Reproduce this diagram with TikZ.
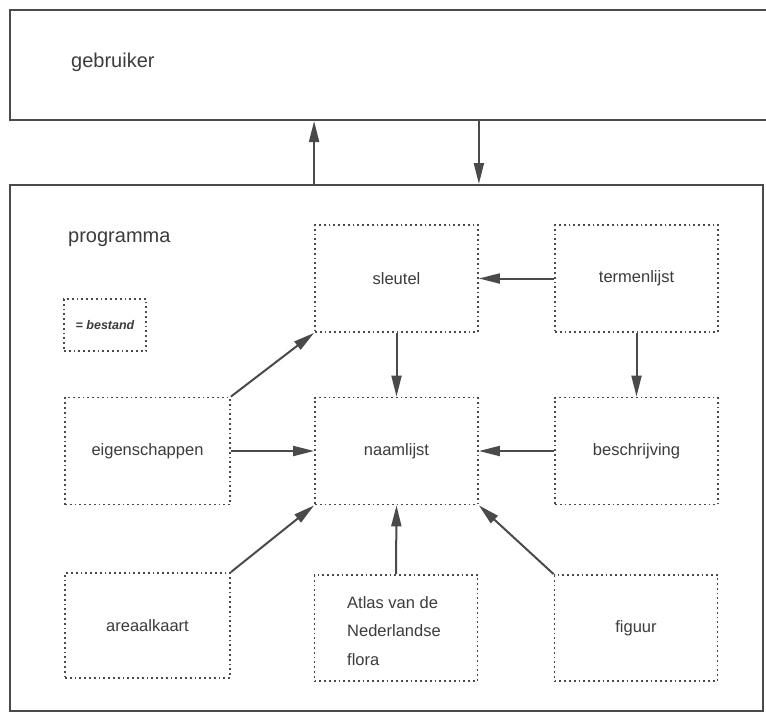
\documentclass[tikz,border=0pt]{standalone}
\usepackage{fontspec}
\setmainfont{Liberation Sans}
\usetikzlibrary{arrows.meta}
\definecolor{ink}{HTML}{4A4A4A}
\definecolor{txt}{HTML}{3C3C3C}
\begin{document}
\begin{tikzpicture}[x=1pt,y=-1pt,
  outer/.style={draw=ink,line width=2pt,rectangle,inner sep=0pt},
  filebox/.style={draw=ink,line width=1.8pt,dash pattern=on 1.8pt off 3pt,rectangle,
     minimum width=163pt,minimum height=107pt,inner sep=0pt,text=txt,font=\fontsize{16.5}{20}\selectfont},
  arr/.style={draw=ink,line width=2pt,-{Triangle[length=21pt,width=10pt]}},
  big/.style={text=txt,font=\fontsize{20}{24}\selectfont,anchor=west,inner sep=0pt}]
\useasboundingbox (0,0) rectangle (766,713);
\fill[white] (0,0) rectangle (766,713);
% outer boxes
\node[outer,minimum width=780pt,minimum height=110pt] (user) at (400,65) {};
\node[outer,minimum width=753pt,minimum height=526pt] (prog) at (386.5,448) {};
\node[big] (ulabel) at (71,62) {gebruiker};
\node[big] (plabel) at (68,239) {programma};
% legend
\node[filebox,minimum width=82pt,minimum height=52pt,font=\fontsize{12.5}{14}\selectfont\itshape\bfseries] (legend) at (105,325) {= bestand};
% file boxes
\node[filebox] (sleutel) at (396.5,278.5) {sleutel};
\node[filebox] (termen) at (636.5,278.5) {termenlijst};
\node[filebox,minimum width=165pt] (eigen) at (147.5,451) {eigenschappen};
\node[filebox] (naam) at (396.5,451) {naamlijst};
\node[filebox] (beschr) at (636.5,451) {beschrijving};
\node[filebox,minimum width=165pt,minimum height=105pt] (areaal) at (147.5,625.5) {areaalkaart};
\node[filebox,minimum height=106pt] (atlas) at (396,628) {};
\node[filebox,minimum height=106pt] (figuur) at (636,628) {figuur};
\node[text=txt,font=\fontsize{16.5}{28.5}\selectfont,align=left,anchor=west,inner sep=0pt] (atlastext) at (347,631) {Atlas van de\\Nederlandse\\flora};
% connectors between user and program
\draw[arr] (prog.north -| sleutel.west) -- (user.south -| sleutel.west);
\draw[arr] (user.south -| sleutel.east) -- (prog.north -| sleutel.east);
% connectors between files
\draw[arr] (termen.west) -- (sleutel.east);
\draw[arr] (sleutel.south) -- (naam.north);
\draw[arr] (termen.south) -- (beschr.north);
\draw[arr] (eigen.north east) -- (sleutel.south west);
\draw[arr] (eigen.east) -- (naam.west);
\draw[arr] (beschr.west) -- (naam.east);
\draw[arr] (areaal.north east) -- (naam.south west);
\draw[arr] (atlas.north) -- (naam.south);
\draw[arr] (figuur.north west) -- (naam.south east);
\end{tikzpicture}
\end{document}
